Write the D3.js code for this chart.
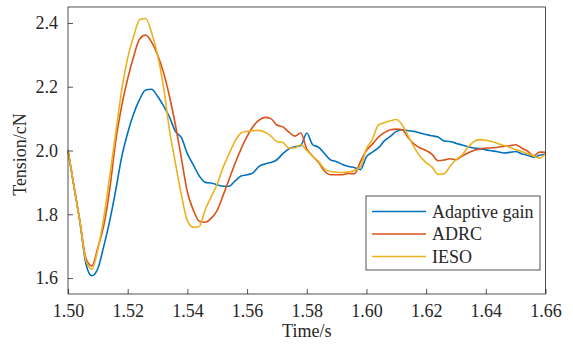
<!DOCTYPE html>
<html>
<head>
<meta charset="utf-8">
<script src="https://cdn.jsdelivr.net/npm/d3@7"></script>
<style>
html,body{margin:0;padding:0;background:#fff;}
svg{display:block;}
text{font-family:"Liberation Serif","Times New Roman",serif;fill:#262626;}
</style>
</head>
<body>
<svg id="chart" width="573" height="345"></svg>
<script>
// ---- data ----
const timeStart = 1.50, timeStep = 0.002; // sample times: 1.500, 1.502, ... 1.660
const seriesNames = ["Adaptive gain", "ADRC", "IESO"];
const seriesColors = ["#0072BD", "#D95319", "#EDB120"];
const adaptiveGain = [
 2.000,1.887,1.775,1.645,1.607,1.630,1.700,1.780,1.876,1.980,
 2.055,2.115,2.160,2.190,2.192,2.170,2.140,2.105,2.060,2.040,
 1.990,1.955,1.920,1.900,1.898,1.892,1.888,1.888,1.905,1.920,
 1.924,1.930,1.950,1.958,1.962,1.971,1.990,2.005,2.012,2.015,
 2.055,2.018,2.010,1.990,1.970,1.965,1.956,1.950,1.946,1.940,
 1.980,1.995,2.008,2.030,2.044,2.060,2.065,2.062,2.060,2.055,
 2.050,2.046,2.042,2.030,2.028,2.023,2.017,2.012,2.008,2.006,
 2.002,1.999,1.996,1.992,1.994,1.997,1.990,1.985,1.979,1.985,
 1.988];
const adrc = [
 2.000,1.888,1.778,1.662,1.638,1.695,1.765,1.880,2.030,2.140,
 2.225,2.295,2.350,2.362,2.340,2.300,2.245,2.170,2.080,1.975,
 1.870,1.813,1.778,1.775,1.788,1.812,1.860,1.910,1.960,2.005,
 2.044,2.075,2.095,2.104,2.100,2.080,2.074,2.058,2.045,2.055,
 2.005,1.982,1.962,1.935,1.924,1.924,1.924,1.928,1.927,1.965,
 2.000,2.020,2.042,2.056,2.065,2.067,2.065,2.040,2.020,2.008,
 2.000,1.988,1.968,1.970,1.974,1.971,1.982,1.992,2.000,2.005,
 2.008,2.008,2.010,2.013,2.015,2.018,2.008,1.998,1.983,1.995,
 1.994];
const ieso = [
 2.000,1.888,1.777,1.655,1.628,1.690,1.790,1.920,2.055,2.190,
 2.290,2.358,2.410,2.414,2.370,2.300,2.200,2.065,1.960,1.860,
 1.780,1.759,1.762,1.815,1.855,1.895,1.948,1.990,2.030,2.055,
 2.060,2.062,2.063,2.057,2.045,2.028,2.025,2.008,2.008,2.018,
 2.000,1.982,1.965,1.942,1.934,1.932,1.931,1.933,1.937,1.950,
 2.005,2.035,2.080,2.087,2.093,2.097,2.080,2.045,2.010,1.981,
 1.962,1.948,1.925,1.927,1.950,1.971,1.985,2.010,2.028,2.034,
 2.032,2.028,2.022,2.016,2.010,2.003,1.997,1.990,1.983,1.976,
 1.990];
const xTicks = [1.50,1.52,1.54,1.56,1.58,1.60,1.62,1.64,1.66];
const yTicks = [1.6,1.8,2.0,2.2,2.4];
const xLabel = "Time/s";
const yLabel = "Tension/cN";

const times = adaptiveGain.map((_, i) => timeStart + i * timeStep);
const series = [adaptiveGain, adrc, ieso];

// ---- layout ----
const svg = d3.select("#chart");
const m = {left: 68, right: 545.5, top: 7, bottom: 294};
const x = d3.scaleLinear().domain([1.50, 1.66]).range([m.left, m.right]);
const y = d3.scaleLinear().domain([1.55, 2.45]).range([m.bottom, m.top]);
const fontFam = "Liberation Serif, Times New Roman, serif";

svg.append("rect").attr("width", 573).attr("height", 345).attr("fill", "#fff");

const axisColor = "#262626";

// lines
const line = d3.line().x((d, i) => x(times[i])).y(d => y(d)).curve(d3.curveMonotoneX);
series.forEach((s, j) => {
  svg.append("path").datum(s)
    .attr("fill", "none")
    .attr("stroke", seriesColors[j])
    .attr("stroke-width", 1.6)
    .attr("stroke-linejoin", "round")
    .attr("d", line);
});

// axes box
svg.append("rect")
  .attr("x", m.left).attr("y", m.top)
  .attr("width", m.right - m.left).attr("height", m.bottom - m.top)
  .attr("fill", "none").attr("stroke", axisColor).attr("stroke-width", 0.8);

const xAxis = d3.axisBottom(x).tickValues(xTicks).tickFormat(d3.format(".2f"))
  .tickSizeInner(-5).tickSizeOuter(0).tickPadding(10);
const gx = svg.append("g").attr("transform", `translate(0,${m.bottom})`).call(xAxis)
  .attr("font-family", fontFam);
gx.select(".domain").remove();
gx.selectAll("line").attr("stroke", axisColor).attr("stroke-width", 0.8);
gx.selectAll("text").attr("font-size", 18).attr("fill", axisColor);

const yAxis = d3.axisLeft(y).tickValues(yTicks).tickFormat(d3.format(".1f"))
  .tickSizeInner(-5).tickSizeOuter(0).tickPadding(10);
const gy = svg.append("g").attr("transform", `translate(${m.left},0)`).call(yAxis)
  .attr("font-family", fontFam);
gy.select(".domain").remove();
gy.selectAll("line").attr("stroke", axisColor).attr("stroke-width", 0.8);
gy.selectAll("text").attr("font-size", 18).attr("fill", axisColor);

// axis labels
svg.append("text").attr("x", (m.left + m.right) / 2).attr("y", 337)
  .attr("text-anchor", "middle").attr("font-size", 18).text(xLabel);
svg.append("text")
  .attr("transform", `translate(26,${(m.top + m.bottom) / 2 + 4}) rotate(-90)`)
  .attr("text-anchor", "middle").attr("font-size", 18).text(yLabel);

// legend
const lg = svg.append("g");
lg.append("rect").attr("x", 366).attr("y", 196).attr("width", 174).attr("height", 74)
  .attr("fill", "#fff").attr("stroke", axisColor).attr("stroke-width", 0.8);
seriesNames.forEach((name, j) => {
  const ly = 211.5 + j * 22.5;
  lg.append("line").attr("x1", 372).attr("x2", 426).attr("y1", ly).attr("y2", ly)
    .attr("stroke", seriesColors[j]).attr("stroke-width", 1.6);
  lg.append("text").attr("x", 432).attr("y", ly + 6).attr("font-size", 18).text(name);
});
</script>
</body>
</html>
